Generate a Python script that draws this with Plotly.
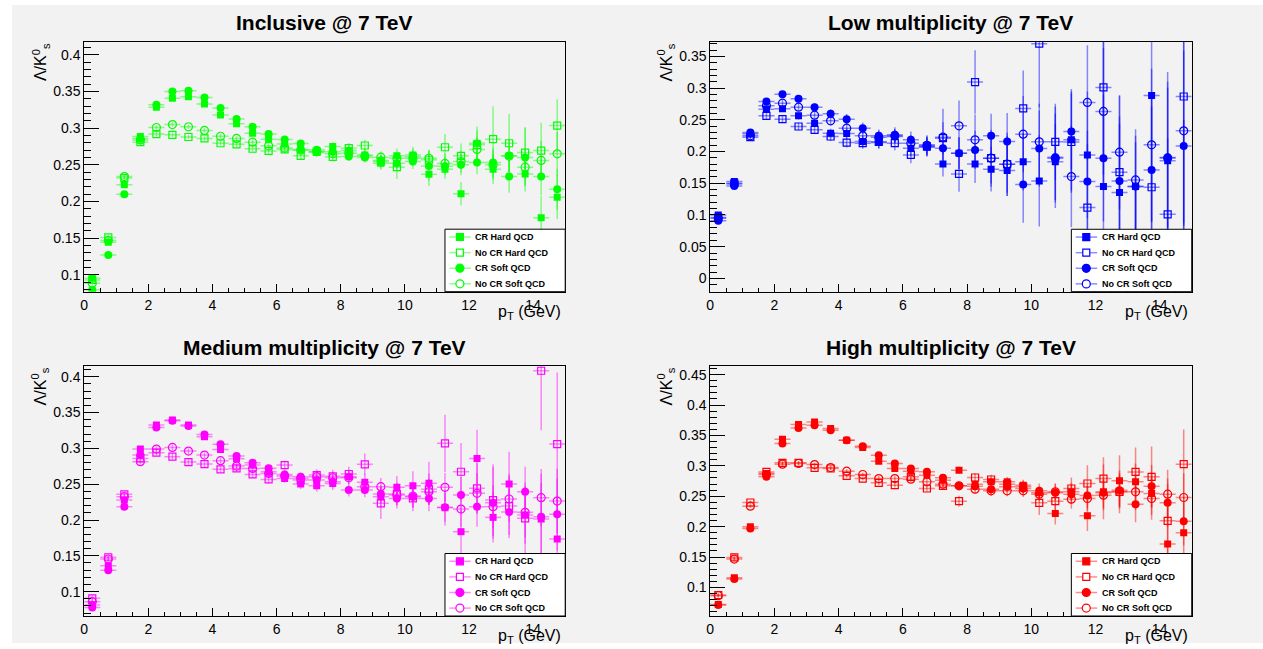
import plotly.graph_objects as go

W, H = 1263, 649
FONT = "Liberation Sans, Arial, Helvetica, sans-serif"

# pT bin centres (GeV), 0.5 GeV wide bins
pt = [0.25, 0.75, 1.25, 1.75, 2.25, 2.75, 3.25, 3.75, 4.25, 4.75,
      5.25, 5.75, 6.25, 6.75, 7.25, 7.75, 8.25, 8.75, 9.25, 9.75,
      10.25, 10.75, 11.25, 11.75, 12.25, 12.75, 13.25, 13.75, 14.25, 14.75]
bin_half_width = 0.25

series_names = ["CR Hard QCD", "No CR Hard QCD", "CR Soft QCD", "No CR Soft QCD"]

# ---------------- Inclusive ----------------
incl_cr_hard = [0.0955, 0.1445, 0.223, 0.2886, 0.3286, 0.341, 0.343, 0.333, 0.318, 0.306,
                0.293, 0.285, 0.2786, 0.271, 0.2668, 0.275, 0.2695, 0.2636, 0.2523, 0.2623,
                0.2636, 0.2373, 0.244, 0.2105, 0.2795, 0.244, 0.2623, 0.2377, 0.178, 0.206]
incl_nocr_hard = [0.093, 0.151, 0.232, 0.281, 0.292, 0.291, 0.288, 0.286, 0.2795, 0.278,
                  0.272, 0.269, 0.271, 0.2623, 0.268, 0.261, 0.2727, 0.2764, 0.2545, 0.2468,
                  0.261, 0.257, 0.274, 0.2623, 0.2773, 0.285, 0.2795, 0.2668, 0.2695, 0.3036]
incl_cr_soft = [0.0795, 0.127, 0.210, 0.286, 0.332, 0.35, 0.351, 0.342, 0.3277, 0.3127,
                0.302, 0.292, 0.2845, 0.279, 0.2705, 0.268, 0.2614, 0.26, 0.256, 0.2523,
                0.2545, 0.2486, 0.248, 0.25, 0.2532, 0.2532, 0.234, 0.26, 0.234, 0.2168]
incl_nocr_soft = [0.0886, 0.147, 0.234, 0.284, 0.301, 0.305, 0.302, 0.297, 0.289, 0.286,
                  0.281, 0.276, 0.273, 0.270, 0.2686, 0.265, 0.266, 0.262, 0.2605, 0.259,
                  0.259, 0.259, 0.252, 0.2545, 0.271, 0.25, 0.262, 0.2468, 0.256, 0.265]
incl_cr_hard_err = [0.004, 0.003, 0.003, 0.003, 0.003, 0.003, 0.003, 0.003, 0.003, 0.004,
                    0.004, 0.004, 0.005, 0.005, 0.006, 0.006, 0.007, 0.008, 0.009, 0.010,
                    0.011, 0.016, 0.013, 0.016, 0.023, 0.020, 0.022, 0.024, 0.030, 0.030]
incl_nocr_hard_err = [0.004, 0.003, 0.003, 0.003, 0.003, 0.003, 0.003, 0.003, 0.003, 0.004,
                      0.004, 0.004, 0.005, 0.005, 0.006, 0.006, 0.007, 0.008, 0.009, 0.016,
                      0.011, 0.014, 0.018, 0.017, 0.020, 0.045, 0.040, 0.035, 0.038, 0.036]
incl_cr_soft_err = [0.003, 0.003, 0.003, 0.003, 0.003, 0.003, 0.003, 0.003, 0.003, 0.003,
                    0.004, 0.004, 0.004, 0.005, 0.005, 0.006, 0.006, 0.007, 0.008, 0.009,
                    0.010, 0.020, 0.012, 0.014, 0.016, 0.020, 0.022, 0.040, 0.025, 0.028]
incl_nocr_soft_err = [0.003, 0.003, 0.003, 0.003, 0.003, 0.003, 0.003, 0.003, 0.003, 0.003,
                      0.004, 0.004, 0.004, 0.005, 0.005, 0.006, 0.006, 0.007, 0.008, 0.009,
                      0.010, 0.011, 0.013, 0.015, 0.017, 0.020, 0.022, 0.024, 0.027, 0.030]

# ---------------- Low multiplicity ----------------
low_cr_hard = [0.100, 0.1526, 0.2279, 0.2668, 0.2674, 0.2563, 0.2447, 0.229, 0.2284, 0.2158,
               0.2142, 0.2237, 0.2053, 0.2068, 0.1805, 0.1974, 0.1805, 0.1721, 0.17, 0.1837,
               0.1537, 0.1837, 0.2184, 0.1947, 0.1447, 0.1353, 0.145, 0.2884, 0.1853, 0.05]
low_nocr_hard = [0.0958, 0.15, 0.2226, 0.2563, 0.251, 0.2395, 0.2342, 0.2237, 0.2142, 0.2132,
                 0.2153, 0.2132, 0.1947, 0.208, 0.221, 0.1647, 0.3095, 0.1895, 0.18, 0.2679,
                 0.37, 0.2153, 0.215, 0.1116, 0.301, 0.1674, 0.06, 0.1437, 0.101, 0.2868]
low_cr_soft = [0.091, 0.1458, 0.23, 0.2789, 0.2905, 0.2832, 0.27, 0.2595, 0.251, 0.2368,
               0.2247, 0.2263, 0.2184, 0.2105, 0.2053, 0.1974, 0.2026, 0.2247, 0.2158, 0.1479,
               0.2047, 0.1911, 0.2316, 0.1526, 0.1895, 0.1537, 0.1447, 0.171, 0.1905, 0.2089]
low_nocr_soft = [0.0947, 0.149, 0.2247, 0.272, 0.2763, 0.27, 0.2574, 0.2484, 0.2368, 0.2247,
                 0.2226, 0.2247, 0.2132, 0.209, 0.2226, 0.2405, 0.2184, 0.1895, 0.18, 0.2274,
                 0.2153, 0.1895, 0.1605, 0.2774, 0.2632, 0.199, 0.1553, 0.2105, 0.19, 0.2326]
low_cr_hard_err = [0.004, 0.004, 0.004, 0.005, 0.005, 0.006, 0.006, 0.007, 0.008, 0.009,
                   0.010, 0.011, 0.013, 0.015, 0.020, 0.025, 0.030, 0.035, 0.040, 0.045,
                   0.072, 0.060, 0.080, 0.100, 0.250, 0.120, 0.080, 0.200, 0.140, 0.200]
low_nocr_hard_err = [0.004, 0.004, 0.004, 0.005, 0.005, 0.006, 0.006, 0.007, 0.008, 0.009,
                     0.010, 0.011, 0.013, 0.015, 0.025, 0.028, 0.050, 0.040, 0.045, 0.060,
                     0.100, 0.060, 0.080, 0.100, 0.150, 0.120, 0.100, 0.150, 0.120, 0.200]
low_cr_soft_err = [0.004, 0.004, 0.004, 0.005, 0.005, 0.006, 0.006, 0.007, 0.008, 0.009,
                   0.010, 0.012, 0.013, 0.015, 0.020, 0.025, 0.030, 0.035, 0.045, 0.060,
                   0.060, 0.080, 0.060, 0.080, 0.100, 0.090, 0.070, 0.100, 0.110, 0.150]
low_nocr_soft_err = [0.004, 0.004, 0.004, 0.005, 0.005, 0.006, 0.006, 0.007, 0.008, 0.009,
                     0.010, 0.011, 0.013, 0.015, 0.045, 0.040, 0.040, 0.045, 0.050, 0.060,
                     0.060, 0.070, 0.080, 0.090, 0.100, 0.090, 0.080, 0.120, 0.120, 0.150]

# ---------------- Medium multiplicity ----------------
med_cr_hard = [0.0814, 0.1363, 0.2279, 0.299, 0.3326, 0.3395, 0.3326, 0.3163, 0.2986, 0.2856,
               0.2767, 0.2674, 0.2581, 0.2502, 0.2479, 0.251, 0.2605, 0.2526, 0.2326, 0.2456,
               0.2479, 0.2512, 0.2172, 0.1837, 0.286, 0.2037, 0.2502, 0.207, 0.2014, 0.1735]
med_nocr_hard = [0.0907, 0.148, 0.2358, 0.286, 0.294, 0.2884, 0.2809, 0.2781, 0.2707, 0.272,
                 0.2637, 0.2567, 0.2767, 0.256, 0.2628, 0.261, 0.2642, 0.2777, 0.2233, 0.2363,
                 0.2302, 0.2428, 0.307, 0.2674, 0.2442, 0.2279, 0.2195, 0.2023, 0.4084, 0.306]
med_cr_soft = [0.0777, 0.130, 0.2186, 0.2907, 0.3293, 0.3386, 0.3312, 0.3195, 0.3056, 0.2893,
               0.28, 0.2721, 0.2637, 0.2605, 0.2558, 0.2535, 0.2419, 0.2419, 0.2363, 0.2302,
               0.2326, 0.2302, 0.2177, 0.2349, 0.2186, 0.2242, 0.2112, 0.2395, 0.2047, 0.2079]
med_nocr_soft = [0.086, 0.1456, 0.2326, 0.2814, 0.299, 0.3014, 0.2963, 0.2907, 0.2828, 0.2753,
                 0.272, 0.265, 0.2614, 0.258, 0.2605, 0.259, 0.259, 0.2465, 0.2465, 0.2349,
                 0.2335, 0.2395, 0.2456, 0.2153, 0.2372, 0.2186, 0.2293, 0.2107, 0.2312, 0.2265]
med_cr_hard_err = [0.004, 0.004, 0.004, 0.004, 0.004, 0.004, 0.004, 0.004, 0.004, 0.005,
                   0.005, 0.006, 0.006, 0.007, 0.008, 0.009, 0.010, 0.012, 0.014, 0.016,
                   0.020, 0.030, 0.025, 0.030, 0.040, 0.035, 0.045, 0.040, 0.050, 0.060]
med_nocr_hard_err = [0.004, 0.004, 0.004, 0.004, 0.004, 0.004, 0.004, 0.004, 0.004, 0.005,
                     0.005, 0.006, 0.006, 0.007, 0.008, 0.009, 0.010, 0.015, 0.022, 0.016,
                     0.018, 0.022, 0.040, 0.040, 0.035, 0.050, 0.045, 0.050, 0.083, 0.100]
med_cr_soft_err = [0.004, 0.004, 0.004, 0.004, 0.004, 0.004, 0.004, 0.004, 0.004, 0.004,
                   0.005, 0.005, 0.006, 0.006, 0.007, 0.008, 0.009, 0.010, 0.012, 0.014,
                   0.016, 0.018, 0.020, 0.025, 0.028, 0.050, 0.032, 0.035, 0.060, 0.050]
med_nocr_soft_err = [0.004, 0.004, 0.004, 0.004, 0.004, 0.004, 0.004, 0.004, 0.004, 0.004,
                     0.005, 0.005, 0.006, 0.006, 0.007, 0.008, 0.009, 0.010, 0.012, 0.014,
                     0.016, 0.018, 0.020, 0.025, 0.028, 0.030, 0.032, 0.035, 0.040, 0.045]

# ---------------- High multiplicity ----------------
high_cr_hard = [0.0721, 0.116, 0.1997, 0.2874, 0.3438, 0.3679, 0.3722, 0.3613, 0.3421, 0.33,
                0.3076, 0.2956, 0.2912, 0.2846, 0.2764, 0.2928, 0.2698, 0.2737, 0.2737, 0.2682,
                0.2556, 0.2216, 0.2572, 0.2178, 0.2572, 0.2753, 0.2737, 0.2545, 0.1713, 0.1899]
high_nocr_hard = [0.0875, 0.1493, 0.2397, 0.29, 0.3049, 0.3049, 0.2967, 0.2956, 0.2835, 0.2791,
                  0.272, 0.2682, 0.2819, 0.2627, 0.2671, 0.2419, 0.2808, 0.2775, 0.2698, 0.2654,
                  0.2392, 0.2419, 0.2627, 0.2709, 0.2791, 0.2572, 0.29, 0.2819, 0.2096, 0.3027]
high_cr_soft = [0.071, 0.1137, 0.197, 0.2819, 0.3366, 0.3624, 0.3668, 0.3585, 0.3421, 0.3323,
                0.3175, 0.3038, 0.2956, 0.2901, 0.2802, 0.2671, 0.2665, 0.2616, 0.2654, 0.2627,
                0.2589, 0.2556, 0.2534, 0.251, 0.2556, 0.26, 0.237, 0.2665, 0.2392, 0.209]
high_nocr_soft = [0.0864, 0.1466, 0.2337, 0.2857, 0.3027, 0.3038, 0.3021, 0.2972, 0.2912, 0.2857,
                  0.2791, 0.2791, 0.278, 0.2737, 0.2698, 0.2671, 0.2616, 0.2589, 0.2589, 0.2589,
                  0.2534, 0.2572, 0.2452, 0.2463, 0.2518, 0.2572, 0.2572, 0.2463, 0.2534, 0.2479]
high_cr_hard_err = [0.003, 0.003, 0.003, 0.003, 0.003, 0.003, 0.003, 0.003, 0.003, 0.003,
                    0.004, 0.004, 0.004, 0.005, 0.005, 0.006, 0.006, 0.007, 0.008, 0.009,
                    0.010, 0.018, 0.015, 0.025, 0.045, 0.042, 0.030, 0.035, 0.060, 0.050]
high_nocr_hard_err = [0.003, 0.003, 0.003, 0.003, 0.003, 0.003, 0.003, 0.003, 0.003, 0.003,
                      0.004, 0.004, 0.004, 0.005, 0.005, 0.009, 0.007, 0.008, 0.009, 0.010,
                      0.020, 0.015, 0.018, 0.030, 0.035, 0.035, 0.040, 0.050, 0.060, 0.057]
high_cr_soft_err = [0.003, 0.003, 0.003, 0.003, 0.003, 0.003, 0.003, 0.003, 0.003, 0.003,
                    0.004, 0.004, 0.004, 0.005, 0.005, 0.006, 0.007, 0.008, 0.009, 0.010,
                    0.012, 0.014, 0.016, 0.020, 0.025, 0.028, 0.030, 0.035, 0.040, 0.040]
high_nocr_soft_err = [0.003, 0.003, 0.003, 0.003, 0.003, 0.003, 0.003, 0.003, 0.003, 0.003,
                      0.004, 0.004, 0.004, 0.005, 0.005, 0.006, 0.007, 0.008, 0.009, 0.010,
                      0.012, 0.014, 0.016, 0.020, 0.025, 0.028, 0.030, 0.035, 0.040, 0.040]

panels = [
    dict(title="Inclusive @ 7 TeV", rgb=(0, 255, 0), yrange=[0.077, 0.418],
         box=(80.5, 563.0, 41.7, 291.7),
         values=[incl_cr_hard, incl_nocr_hard, incl_cr_soft, incl_nocr_soft],
         errors=[incl_cr_hard_err, incl_nocr_hard_err, incl_cr_soft_err, incl_nocr_soft_err]),
    dict(title="Low multiplicity @ 7 TeV", rgb=(0, 0, 255), yrange=[-0.021, 0.3727],
         box=(708.5, 1191.5, 42.0, 291.7),
         values=[low_cr_hard, low_nocr_hard, low_cr_soft, low_nocr_soft],
         errors=[low_cr_hard_err, low_nocr_hard_err, low_cr_soft_err, low_nocr_soft_err]),
    dict(title="Medium multiplicity @ 7 TeV", rgb=(255, 0, 255), yrange=[0.066, 0.415],
         box=(80.5, 563.0, 366.0, 616.0),
         values=[med_cr_hard, med_nocr_hard, med_cr_soft, med_nocr_soft],
         errors=[med_cr_hard_err, med_nocr_hard_err, med_cr_soft_err, med_nocr_soft_err]),
    dict(title="High multiplicity @ 7 TeV", rgb=(255, 0, 0), yrange=[0.053, 0.4642],
         box=(708.5, 1191.5, 366.0, 616.0),
         values=[high_cr_hard, high_nocr_hard, high_cr_soft, high_nocr_soft],
         errors=[high_cr_hard_err, high_nocr_hard_err, high_cr_soft_err, high_nocr_soft_err]),
]

# marker style per series: (plotly symbol, size, filled, legend glyph type)
styles = [("square", 7, True, "rect"), ("square-open", 7, False, "rect"),
          ("circle", 8, True, "circle"), ("circle-open", 8, False, "circle")]

fig = go.Figure()
layout = dict(width=W, height=H, margin=dict(l=0, r=0, t=0, b=0),
              paper_bgcolor="white", plot_bgcolor="#f2f2f2", showlegend=False)
shapes = []
annotations = []

# grey canvas
shapes.append(dict(type="rect", xref="paper", yref="paper", x0=8 / W, x1=1.0,
                   y0=1 - 643 / H, y1=1 - 5 / H, fillcolor="#f2f2f2",
                   line=dict(width=0), layer="below"))

for i, p in enumerate(panels):
    n = "" if i == 0 else str(i + 1)
    xa, ya = "x" + n, "y" + n
    x0, x1, ytop, ybot = p["box"]
    r, g, b = p["rgb"]
    full = f"rgb({r},{g},{b})"
    faded = f"rgba({r},{g},{b},0.45)"

    for k in range(4):
        sym, size, filled, _ = styles[k]
        fig.add_trace(go.Scatter(
            x=pt, y=p["values"][k], xaxis=xa, yaxis=ya, mode="markers",
            name=series_names[k],
            marker=dict(symbol=sym, size=size, color=full,
                        line=dict(color=full, width=1.2 if not filled else 0)),
            error_x=dict(type="constant", value=bin_half_width, width=0,
                         thickness=1.5, color=faded),
            error_y=dict(type="data", array=p["errors"][k], width=0,
                         thickness=1.5, color=faded),
        ))

    layout["xaxis" + n] = dict(
        domain=[x0 / W, x1 / W], anchor=ya, range=[0, 15],
        showline=True, linecolor="black", linewidth=1, mirror=True,
        ticks="inside", ticklen=8, tickcolor="black", tickwidth=1,
        tick0=0, dtick=2, showgrid=False, zeroline=False,
        minor=dict(ticks="inside", ticklen=4, dtick=0.5, tickcolor="black", showgrid=False),
        tickfont=dict(family=FONT, size=14, color="black"),
    )
    layout["yaxis" + n] = dict(
        domain=[1 - ybot / H, 1 - ytop / H], anchor=xa, range=p["yrange"],
        showline=True, linecolor="black", linewidth=1, mirror=True,
        ticks="inside", ticklen=15, tickcolor="black", tickwidth=1,
        tick0=0, dtick=0.05, showgrid=False, zeroline=False,
        minor=dict(ticks="inside", ticklen=7, dtick=0.01, tickcolor="black", showgrid=False),
        tickfont=dict(family=FONT, size=14, color="black"),
    )

    # pad title
    annotations.append(dict(
        text=f"<b>{p['title']}</b>", xref="paper", yref="paper",
        x=(x0 + x1) / 2 / W, y=1 - (ytop - 19) / H, xanchor="center", yanchor="middle",
        showarrow=False, font=dict(family=FONT, size=21, color="black")))
    # y axis title
    annotations.append(dict(
        text="Λ/K<sup>0</sup><sub>s</sub>", xref="paper", yref="paper",
        x=(x0 - 44) / W, y=1 - (ytop - 1) / H, xanchor="center", yanchor="top",
        textangle=-90, showarrow=False, font=dict(family=FONT, size=16, color="black")))
    # x axis title
    annotations.append(dict(
        text="p<sub>T</sub> (GeV)", xref="paper", yref="paper",
        x=(x1 - 2) / W, y=1 - (ybot + 9) / H, xanchor="right", yanchor="top",
        showarrow=False, font=dict(family=FONT, size=16, color="black")))

    # legend box in the lower right corner of the frame
    xd, yd = xa + " domain", ya + " domain"
    shapes.append(dict(type="rect", xref=xd, yref=yd, x0=0.75, x1=1.0, y0=0.0, y1=0.25,
                       fillcolor="white", line=dict(color="black", width=1), layer="above"))
    pw, ph = x1 - x0, ybot - ytop
    for k in range(4):
        sym, size, filled, glyph = styles[k]
        yc = 0.25 - (7.8 + 15.6 * k) / ph
        shapes.append(dict(type="line", xref=xd, yref=yd, x0=0.759, x1=0.8037, y0=yc, y1=yc,
                           line=dict(color=faded, width=1.5), layer="above"))
        hx, hy = (size / 2) / pw, (size / 2) / ph
        shapes.append(dict(type=glyph, xref=xd, yref=yd, x0=0.781 - hx, x1=0.781 + hx,
                           y0=yc - hy, y1=yc + hy,
                           fillcolor=full if filled else "white",
                           line=dict(color=full, width=1.2), layer="above"))
        annotations.append(dict(
            text=f"<b>{series_names[k]}</b>", xref=xd, yref=yd, x=0.809, y=yc,
            xanchor="left", yanchor="middle", showarrow=False,
            font=dict(family=FONT, size=9, color="black")))

layout["shapes"] = shapes
layout["annotations"] = annotations
fig.update_layout(**layout)
fig.write_html("out.html")
